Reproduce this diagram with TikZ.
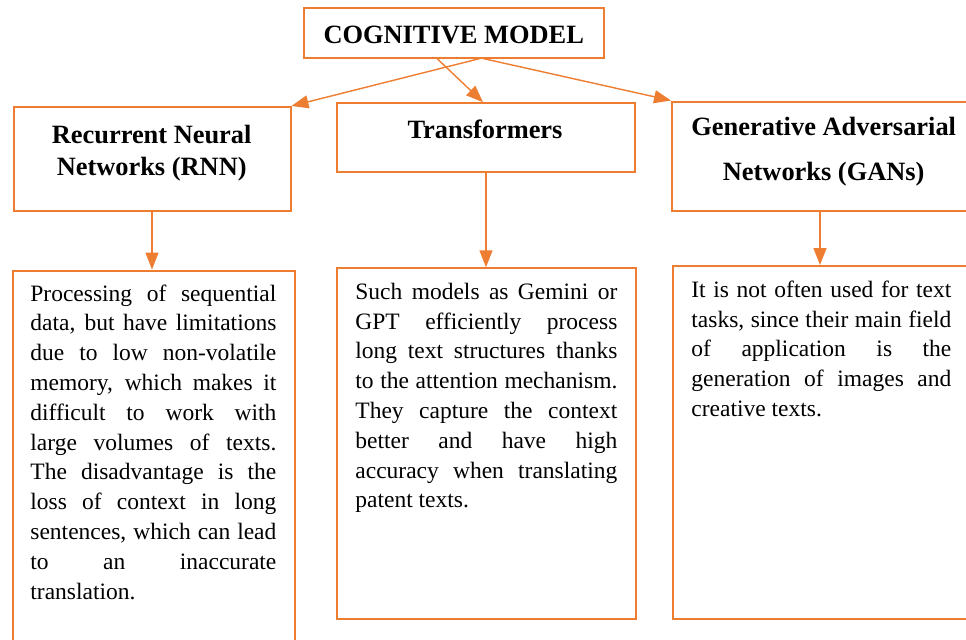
\documentclass[tikz,border=0pt]{standalone}
\usepackage{fontspec}
\setmainfont{Liberation Serif}
\usepackage{xcolor}
\usetikzlibrary{arrows.meta,positioning}
\definecolor{boxorange}{RGB}{237,125,49}
% one justified line of a text box
\newcommand{\fline}[1]{\makebox[\hsize][s]{#1}}

\begin{document}
\begin{tikzpicture}[x=0.5pt, y=-0.5pt,
    frame/.style={draw=boxorange, line width=1pt, inner sep=0pt},
    head/.style={font=\fontsize{13.2}{16}\selectfont\bfseries, inner sep=0pt, align=center, anchor=base},
    body/.style={font=\fontsize{11.75}{14.9}\selectfont, inner sep=0pt, anchor=base west, align=justify},
    link/.style={draw=boxorange, line width=0.7pt, -{Triangle[length=8.5pt,width=6.5pt]}}]
    \useasboundingbox (0,0) rectangle (966,639);
    \clip (0,0) rectangle (966,639);

    % Frames
    \node[frame, minimum width=150pt, minimum height=25pt] (top) at (454,32.5) {};
    \node[frame, minimum width=138.5pt, minimum height=52pt] (rnn) at (152,159) {};
    \node[frame, minimum width=149pt, minimum height=34.5pt] (trf) at (486,137.7) {};
    \node[frame, minimum width=148pt, minimum height=54.75pt] (gan) at (820,156.25) {};
    \node[frame, minimum width=141pt, minimum height=214.75pt] (rnnt) at (153.5,485.25) {};
    \node[frame, minimum width=149.5pt, minimum height=175.2pt] (trft) at (486.5,443.5) {};
    \node[frame, minimum width=148pt, minimum height=176.5pt] (gant) at (821,442.5) {};

    % Headings (base = last line)
    \node[head] (toplbl) at (453.7,43.3) {COGNITIVE MODEL};
    \node[head] (rnnlbl) at (151.7,175) {Recurrent Neural\\Networks (RNN)};
    \node[head] (trflbl) at (485,138.3) {Transformers};
    \node[head, font=\fontsize{13.2}{22.5}\selectfont\bfseries] (ganlbl) at (823.7,180.7)
        {Generative Adversarial\\Networks (GANs)};

    % Texts
    \node[body, text width=123pt] (rnntxt) at (30,301) {%
        \fline{Processing of sequential}\\
        \fline{data, but have limitations}\\
        \fline{due to low non-volatile}\\
        \fline{memory, which makes it}\\
        \fline{difficult to work with}\\
        \fline{large volumes of texts.}\\
        \fline{The disadvantage is the}\\
        \fline{loss of context in long}\\
        \fline{sentences, which can lead}\\
        \fline{to an inaccurate}\\
        translation.};
    \node[body, text width=131pt] (trftxt) at (355,299.3) {%
        \fline{Such models as Gemini or}\\
        \fline{GPT efficiently process}\\
        \fline{long text structures thanks}\\
        \fline{to the attention mechanism.}\\
        \fline{They capture the context}\\
        \fline{better and have high}\\
        \fline{accuracy when translating}\\
        patent texts.};
    \node[body, text width=130pt] (gantxt) at (691,297.3) {%
        \fline{It is not often used for text}\\
        \fline{tasks, since their main field}\\
        \fline{of application is the}\\
        \fline{generation of images and}\\
        creative texts.};

    % Links
    \draw[link] ([xshift=13pt]top.south) -- (rnn.north east);
    \draw[link] ([xshift=-8.5pt]top.south) -- ([xshift=-1.5pt]trf.north);
    \draw[link] ([xshift=14.5pt]top.south) -- (gan.north west);
    \draw[link] (rnn.south) -- (rnn.south |- rnnt.north);
    \draw[link] (trf.south) -- (trf.south |- trft.north);
    \draw[link] (gan.south) -- (gan.south |- gant.north);
\end{tikzpicture}
\end{document}
